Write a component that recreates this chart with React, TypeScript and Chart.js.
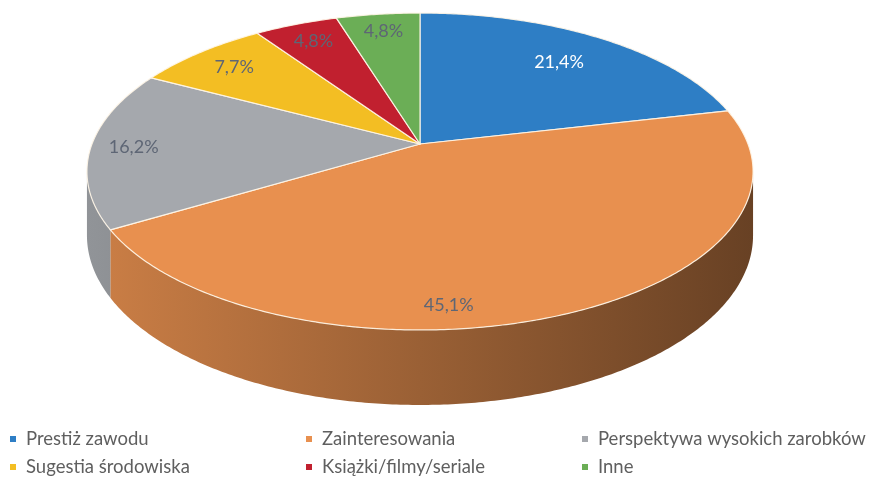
import React, { useEffect, useRef } from 'react';
import { Chart, registerables } from 'chart.js';

Chart.register(...registerables);

// ---- data ----
const categories = [
  'Prestiż zawodu',
  'Zainteresowania',
  'Perspektywa wysokich zarobków',
  'Sugestia środowiska',
  'Książki/filmy/seriale',
  'Inne',
];
const shares = [21.4, 45.1, 16.2, 7.7, 4.8, 4.8];

// ---- styles ----
const sliceColors = ['#2E7EC5', '#E8904F', '#A5A8AD', '#F3BE23', '#C1202F', '#6BAE56'];
const labelColors = ['#FFFFFF', '#5E6675', '#5E6675', '#5E6675', '#5E6675', '#5E6675'];
const labelRadius = [0.75, 0.89, 0.87, 0.83, 0.84, 0.85];
const labelAngleShiftDeg = [0, 17, 0, 0, 0, 0];

const VIEW = { cx: 420, cy: 144, A: 328, B: 153.7, k: 0.1735, H: 62 };
const FONT = 'Lato, "Liberation Sans", sans-serif';
const LEGEND = { textX: [26, 322, 598], baseY: [445, 473], marker: 6, gap: 10, size: 18.5 };

function proj(theta: number, r = 1): [number, number] {
  const u = r * Math.sin(theta);
  const v = r * Math.cos(theta);
  const w = 1 + VIEW.k * v;
  return [VIEW.cx + (VIEW.A * u) / w, VIEW.cy - (VIEW.B * v) / w];
}
function depth(theta: number) {
  return VIEW.H / (1 + VIEW.k * Math.cos(theta));
}
function shade(hex: string, f: number) {
  const n = parseInt(hex.slice(1), 16);
  const r = Math.round(((n >> 16) & 255) * f);
  const g = Math.round(((n >> 8) & 255) * f);
  const b = Math.round((n & 255) * f);
  return `rgb(${r},${g},${b})`;
}
function fmt(v: number) {
  return v.toFixed(1).replace('.', ',') + '%';
}

function sliceAngles(chart: any) {
  const meta = chart.getDatasetMeta(0);
  return meta.data.map((a: any) => {
    const p = a.getProps(['startAngle', 'endAngle'], true);
    return { s: p.startAngle + Math.PI / 2, e: p.endAngle + Math.PI / 2 };
  });
}

const pie3d = {
  id: 'pie3d',
  beforeDatasetDraw(chart: any) {
    const ctx = chart.ctx as CanvasRenderingContext2D;
    const colors = chart.data.datasets[0].backgroundColor as string[];
    const arcs = sliceAngles(chart);
    const t1 = Math.acos(-VIEW.k);
    const t2 = 2 * Math.PI - t1;
    const xl = proj(t2)[0];
    const xr = proj(t1)[0];
    ctx.save();
    // side walls
    arcs.forEach((arc: any, i: number) => {
      const a = Math.max(arc.s, t1);
      const b = Math.min(arc.e, t2);
      if (b <= a) return;
      const n = Math.max(2, Math.ceil((b - a) / 0.01));
      ctx.beginPath();
      for (let j = 0; j <= n; j++) {
        const t = a + ((b - a) * j) / n;
        const [x, y] = proj(t);
        if (j === 0) ctx.moveTo(x, y);
        else ctx.lineTo(x, y);
      }
      for (let j = n; j >= 0; j--) {
        const t = a + ((b - a) * j) / n;
        const [x, y] = proj(t);
        ctx.lineTo(x, y + depth(t));
      }
      ctx.closePath();
      const g = ctx.createLinearGradient(xl, 0, xr, 0);
      g.addColorStop(0, shade(colors[i], 0.88));
      g.addColorStop(1, shade(colors[i], 0.45));
      ctx.fillStyle = g;
      ctx.fill();
    });
    // top faces
    arcs.forEach((arc: any, i: number) => {
      const n = Math.max(2, Math.ceil((arc.e - arc.s) / 0.01));
      ctx.beginPath();
      ctx.moveTo(VIEW.cx, VIEW.cy);
      for (let j = 0; j <= n; j++) {
        const t = arc.s + ((arc.e - arc.s) * j) / n;
        const [x, y] = proj(t);
        ctx.lineTo(x, y);
      }
      ctx.closePath();
      ctx.fillStyle = colors[i];
      ctx.fill();
      ctx.lineWidth = 1.2;
      ctx.lineJoin = 'round';
      ctx.strokeStyle = 'rgba(255,246,232,0.9)';
      ctx.stroke();
    });
    ctx.restore();
    return false;
  },
  afterDatasetsDraw(chart: any) {
    const ctx = chart.ctx as CanvasRenderingContext2D;
    const arcs = sliceAngles(chart);
    const values = chart.data.datasets[0].data as number[];
    ctx.save();
    ctx.font = `18px ${FONT}`;
    ctx.textAlign = 'center';
    ctx.textBaseline = 'middle';
    arcs.forEach((arc: any, i: number) => {
      const mid = (arc.s + arc.e) / 2 + (labelAngleShiftDeg[i] * Math.PI) / 180;
      const [x, y] = proj(mid, labelRadius[i]);
      ctx.fillStyle = labelColors[i];
      ctx.fillText(fmt(values[i]), x, y);
    });
    // legend
    const colors = chart.data.datasets[0].backgroundColor as string[];
    const labels = chart.data.labels as string[];
    ctx.font = `${LEGEND.size}px ${FONT}`;
    ctx.textAlign = 'left';
    ctx.textBaseline = 'alphabetic';
    labels.forEach((lab, i) => {
      const col = i % 3;
      const row = Math.floor(i / 3);
      const tx = LEGEND.textX[col];
      const by = LEGEND.baseY[row];
      ctx.fillStyle = colors[i];
      ctx.fillRect(tx - LEGEND.gap - LEGEND.marker, by - 9, LEGEND.marker, LEGEND.marker);
      ctx.fillStyle = '#5F5F5F';
      ctx.fillText(lab, tx, by);
    });
    ctx.restore();
  },
};

export default function App() {
  const ref = useRef<HTMLCanvasElement | null>(null);
  useEffect(() => {
    if (!ref.current) return;
    const chart = new Chart(ref.current, {
      type: 'pie',
      data: {
        labels: categories,
        datasets: [{ data: shares, backgroundColor: sliceColors, borderWidth: 0 }],
      },
      options: {
        responsive: false,
        animation: false,
        events: [],
        plugins: { legend: { display: false }, tooltip: { enabled: false } },
      },
      plugins: [pie3d as any],
    });
    return () => chart.destroy();
  }, []);
  return (
    <div style={{ position: 'absolute', left: 0, top: 0, width: 871, height: 477, background: '#fff' }}>
      <canvas ref={ref} width={871} height={477} style={{ width: 871, height: 477, display: 'block' }} />
    </div>
  );
}
